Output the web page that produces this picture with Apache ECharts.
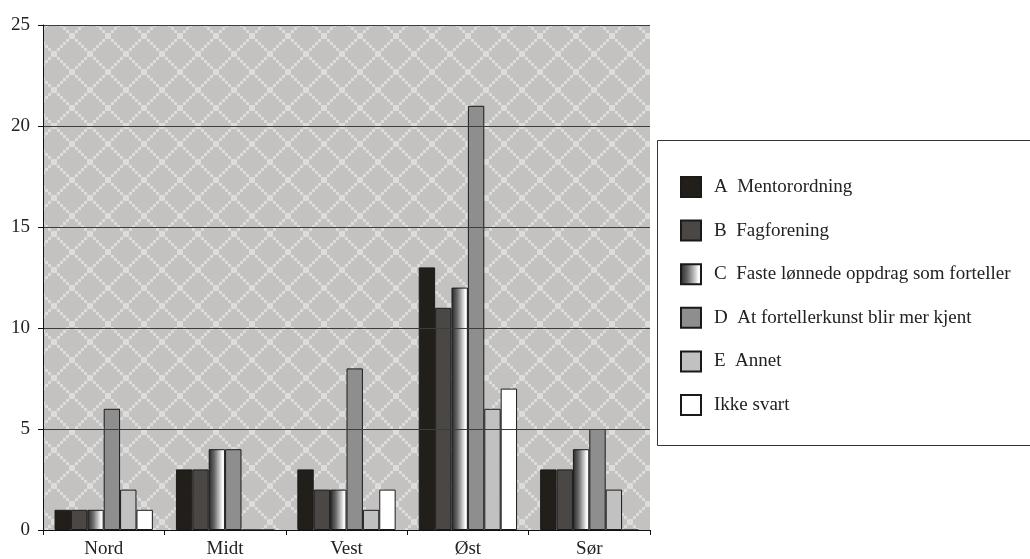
<!DOCTYPE html>
<html>
<head>
<meta charset="utf-8">
<script src="https://cdn.jsdelivr.net/npm/echarts@6/dist/echarts.min.js"></script>
<style>
html,body{margin:0;padding:0;background:#fff;}
#chart{width:1030px;height:559px;}
</style>
</head>
<body>
<div id="chart"></div>
<script>
const categories = ['Nord', 'Midt', 'Vest', 'Øst', 'Sør'];
const seriesNames = ['A  Mentorordning', 'B  Fagforening', 'C  Faste lønnede oppdrag som forteller', 'D  At fortellerkunst blir mer kjent', 'E  Annet', 'Ikke svart'];
const valuesA = [1, 3, 3, 13, 3];
const valuesB = [1, 3, 2, 11, 3];
const valuesC = [1, 4, 2, 12, 4];
const valuesD = [6, 4, 8, 21, 5];
const valuesE = [2, 0, 1, 6, 2];
const valuesF = [1, 0, 2, 7, 0];
const yTicks = [0, 5, 10, 15, 20, 25];

// background lattice tile
const tile = document.createElement('canvas');
tile.width = 36; tile.height = 36;
const tctx = tile.getContext('2d');
tctx.fillStyle = '#c3c2c0';
tctx.fillRect(0, 0, 36, 36);
tctx.fillStyle = '#dcdcdb';
for (let i = 0; i < 12; i++) {
  tctx.fillRect(3 * i, 3 * i, 3, 3);
  tctx.fillRect(33 - 3 * i, 3 * i, 3, 3);
}

const font = 'Liberation Serif';
const cGrad = new echarts.graphic.LinearGradient(0, 0, 1, 0, [
  {offset: 0, color: '#262626'},
  {offset: 0.35, color: '#6a6a6a'},
  {offset: 0.7, color: '#d0d0d0'},
  {offset: 0.85, color: '#ffffff'},
  {offset: 1, color: '#e8e8e8'}
]);
const fills = ['#221f1b', '#4b4744', cGrad, '#8e8e8e', '#c1c1c1', '#ffffff'];
const allValues = [valuesA, valuesB, valuesC, valuesD, valuesE, valuesF];

const chart = echarts.init(document.getElementById('chart'), null, {renderer: 'canvas'});
chart.setOption({
  animation: false,
  backgroundColor: '#ffffff',
  grid: {
    left: 43, right: 380, top: 25, bottom: 27,
    show: true,
    backgroundColor: {image: tile, repeat: 'repeat'},
    borderWidth: 0
  },
  graphic: [{
    type: 'rect', z: 0,
    shape: {x: 657.5, y: 140.5, width: 400, height: 305},
    style: {fill: '#ffffff', stroke: '#333333', lineWidth: 1}
  }],
  legend: {
    orient: 'vertical',
    left: 675, top: 171,
    itemWidth: 20, itemHeight: 20, itemGap: 21.6,
    icon: 'rect',
    z: 5,
    textStyle: {fontFamily: font, fontSize: 19, color: '#222222', padding: [0, 0, 0, 8]},
    data: seriesNames
  },
  xAxis: {
    type: 'category',
    data: categories,
    axisLine: {lineStyle: {color: '#111111', width: 1}},
    axisTick: {show: true, length: 5, lineStyle: {color: '#111111'}},
    axisLabel: {fontFamily: font, fontSize: 19, color: '#222222', margin: 10},
    z: 3
  },
  yAxis: {
    type: 'value',
    min: 0, max: 25, interval: 5,
    axisLine: {show: true, lineStyle: {color: '#111111', width: 1}},
    axisTick: {show: true, length: 5, lineStyle: {color: '#111111'}},
    axisLabel: {fontFamily: font, fontSize: 19, color: '#222222', margin: 13, padding: [0, 0, 6, 0],
      formatter: v => yTicks.includes(v) ? String(v) : ''},
    splitLine: {show: true, lineStyle: {color: '#3c3c3c', width: 1}},
    z: 3
  },
  series: seriesNames.map((name, i) => ({
    name: name,
    type: 'bar',
    data: allValues[i],
    barGap: '0%',
    barCategoryGap: '19%',
    itemStyle: {color: fills[i], borderColor: '#1a1a1a', borderWidth: 1}
  }))
});
</script>
</body>
</html>
